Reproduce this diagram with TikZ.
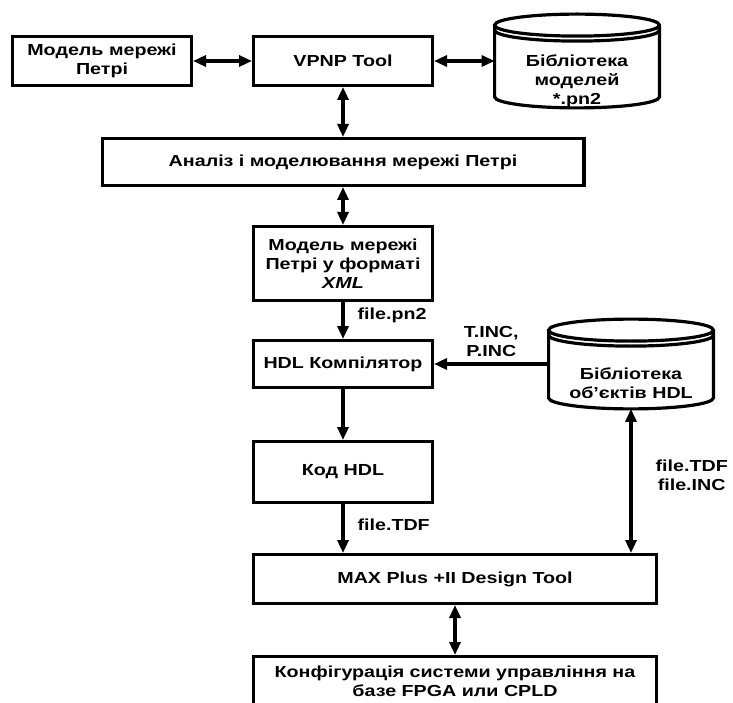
\documentclass[tikz,border=0pt]{standalone}
\usepackage{fontspec}
\setmainfont[FakeStretch=1.23]{Liberation Sans}
\usetikzlibrary{positioning, arrows.meta, calc}

\newcommand\cylout[1]{%
  \draw let \p1=(#1.north west), \p2=(#1.south east), \n1={(\x2-\x1)/2} in
    (\x1,\y1-11pt) -- (\x1,\y2+11pt) arc[start angle=180, end angle=360, x radius=\n1, y radius=11pt]
    -- (\x2,\y1-11pt) arc[start angle=0, end angle=360, x radius=\n1, y radius=11pt]
    (\x1,\y1-16pt) arc[start angle=180, end angle=360, x radius=\n1, y radius=11pt];}

\begin{document}
\begin{tikzpicture}[x=1pt, y=-1pt, font=\bfseries\fontsize{16}{19}\selectfont, line width=3.2pt,
  >={Triangle[length=13pt, width=11pt]},
  box/.style={draw, align=center, minimum width=178.8pt, minimum height=48.8pt, inner sep=2pt},
  cyl/.style={minimum width=164.8pt, minimum height=93.8pt, outer sep=0pt},
  cyltext/.style={align=center, inner sep=1pt},
  lbl/.style={align=center, inner sep=1pt}]
  \useasboundingbox (0,0) rectangle (733,703);
  \node[box] (vpnp) at (343,61) {VPNP Tool};
  \node[box, left=59pt of vpnp] (petri) {Модель мережі\\Петрі};
  \node[cyl, right=60.6pt of vpnp] (lib1) {};
  \node[cyltext] (lib1t) at ([yshift=-20pt]lib1.center) {Бібліотека\\моделей\\*.pn2};
  \node[box, below=50pt of vpnp, minimum width=481.8pt, minimum height=46.8pt] (anal) {Аналіз і моделювання мережі Петрі};
  \node[box, below=38pt of anal, minimum height=73.8pt] (xml) {Модель мережі\\Петрі у форматі\\\textit{XML}};
  \node[box, below=37pt of xml, minimum height=46.8pt] (hdl) {HDL Компілятор};
  \node[cyl, right=114.6pt of hdl, minimum height=89.8pt] (lib2) {};
  \node[cyltext] (lib2t) at ([yshift=-19pt]lib2.center) {Бібліотека\\об’єктів HDL};
  \node[box, below=51pt of hdl, minimum height=60.8pt] (kod) {Код HDL};
  \node[box, below=49pt of kod.south west, anchor=north west, minimum width=402.8pt] (max) {MAX Plus +II Design Tool};
  \node[box, below=50pt of max, minimum width=402.8pt] (conf) {Конфігурація системи управління на\\базе FPGA или CPLD};
  \cylout{lib1}
  \cylout{lib2}
  \draw[<->] (petri) -- (vpnp);
  \draw[<->] (vpnp) -- (lib1);
  \draw[<->] (vpnp) -- (anal);
  \draw[<->] (anal) -- (xml);
  \draw[->] (xml) -- node[lbl, pos=0.35, right=12pt]{file.pn2} (hdl);
  \draw[->] (lib2) -- node[lbl, above=5pt]{T.INC,\\P.INC} (hdl);
  \draw[->] (hdl) -- (kod);
  \draw[->] (kod) -- node[lbl, pos=0.43, right=12pt]{file.TDF} (max.north -| kod);
  \draw[<->] (lib2) -- node[lbl, pos=0.46, right=22pt]{file.TDF\\file.INC} (lib2 |- max.north);
  \draw[<->] (max) -- (conf);
\end{tikzpicture}
\end{document}
